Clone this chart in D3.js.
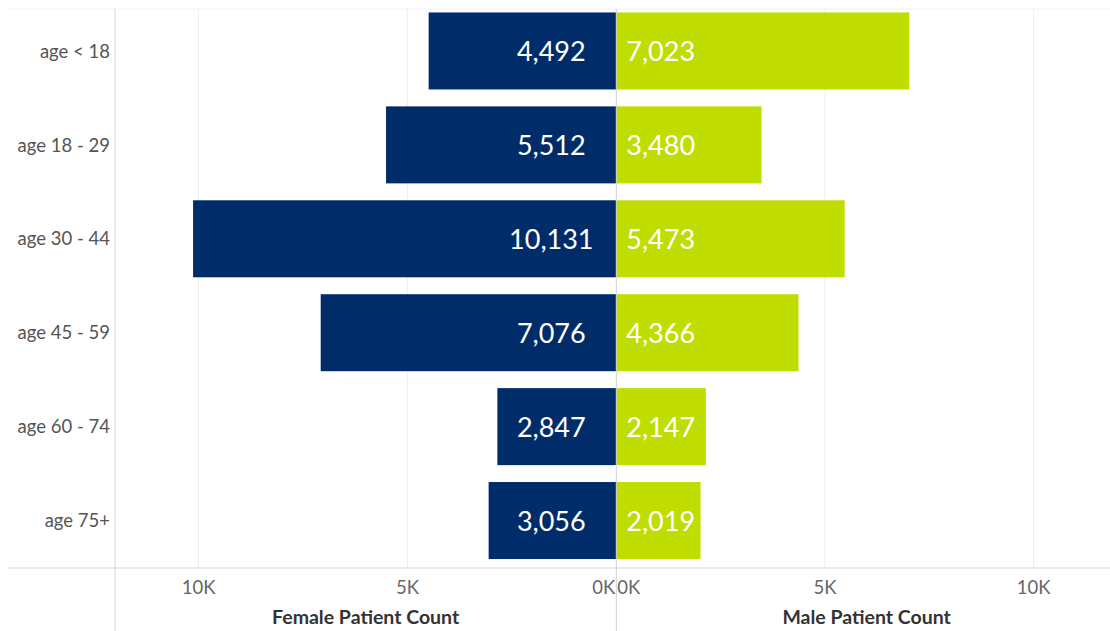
<!DOCTYPE html>
<html>
<head>
<meta charset="utf-8">
<script src="https://cdn.jsdelivr.net/npm/d3@7"></script>
<style>
  body { margin: 0; background: #fff; }
  text { font-family: Lato, "Open Sans", sans-serif; }
</style>
</head>
<body>
<div id="chart"></div>
<script>
// data
var ageGroups = ["age < 18", "age 18 - 29", "age 30 - 44", "age 45 - 59", "age 60 - 74", "age 75+"];
var femaleCounts = [4492, 5512, 10131, 7076, 2847, 3056];
var maleCounts = [7023, 3480, 5473, 4366, 2147, 2019];
var tickValues = [0, 5000, 10000];

var width = 1110, height = 631;
var zeroX = 616.3;
var leftEdge = 115, rightEdge = 1117;
var plotTop = 4, axisY = 568;

var svg = d3.select('#chart').append('svg')
  .attr('width', width)
  .attr('height', height);

var xFemale = d3.scaleLinear().domain([0, 12000]).range([zeroX, leftEdge]);
var xMale = d3.scaleLinear().domain([0, 12000]).range([zeroX, rightEdge]);

var y = d3.scaleBand()
  .domain(ageGroups)
  .range([plotTop, 567.5])
  .paddingInner(0.18)
  .paddingOuter(0.09);

// gridlines
var grid = tickValues.filter(function(d) { return d > 0; });
svg.selectAll('.gf').data(grid).enter().append('line')
  .attr('x1', function(d) { return xFemale(d); })
  .attr('x2', function(d) { return xFemale(d); })
  .attr('y1', 9).attr('y2', axisY)
  .attr('stroke', '#efefef');
svg.selectAll('.gm').data(grid).enter().append('line')
  .attr('x1', function(d) { return xMale(d); })
  .attr('x2', function(d) { return xMale(d); })
  .attr('y1', 9).attr('y2', axisY)
  .attr('stroke', '#efefef');

// top faint line
svg.append('line').attr('x1', 7).attr('x2', width).attr('y1', 9).attr('y2', 9)
  .attr('stroke', '#f2f2f2');

// bars
svg.selectAll('.fbar').data(femaleCounts).enter().append('rect')
  .attr('x', function(d) { return xFemale(d); })
  .attr('y', function(d, i) { return y(ageGroups[i]); })
  .attr('width', function(d) { return zeroX - xFemale(d); })
  .attr('height', y.bandwidth())
  .attr('fill', '#002d6a');

svg.selectAll('.mbar').data(maleCounts).enter().append('rect')
  .attr('x', zeroX)
  .attr('y', function(d, i) { return y(ageGroups[i]); })
  .attr('width', function(d) { return xMale(d) - zeroX; })
  .attr('height', y.bandwidth())
  .attr('fill', '#bfdd00');

// value labels
var fmt = d3.format(',');
svg.selectAll('.flab').data(femaleCounts).enter().append('text')
  .attr('x', zeroX - 65)
  .attr('y', function(d, i) { return y(ageGroups[i]) + y.bandwidth() / 2; })
  .attr('dy', '0.38em')
  .attr('text-anchor', 'middle')
  .attr('fill', '#fff')
  .style('font-size', '27px')
  .text(function(d) { return fmt(d); });

svg.selectAll('.mlab').data(maleCounts).enter().append('text')
  .attr('x', zeroX + 10)
  .attr('y', function(d, i) { return y(ageGroups[i]) + y.bandwidth() / 2; })
  .attr('dy', '0.38em')
  .attr('text-anchor', 'start')
  .attr('fill', '#fff')
  .style('font-size', '27px')
  .text(function(d) { return fmt(d); });

// zero line and left divider
svg.append('line').attr('x1', zeroX).attr('x2', zeroX).attr('y1', 9).attr('y2', height)
  .attr('stroke', '#d0d0d0');
svg.append('line').attr('x1', leftEdge).attr('x2', leftEdge).attr('y1', 9).attr('y2', height)
  .attr('stroke', '#d6d6d6');
svg.append('line').attr('x1', 7).attr('x2', width).attr('y1', axisY).attr('y2', axisY)
  .attr('stroke', '#d6d6d6');

// category labels
svg.selectAll('.cat').data(ageGroups).enter().append('text')
  .attr('x', 110)
  .attr('y', function(d) { return y(d) + y.bandwidth() / 2; })
  .attr('dy', '0.36em')
  .attr('text-anchor', 'end')
  .attr('fill', '#555')
  .style('font-size', '18.5px')
  .text(function(d) { return d; });

// tick labels
function kfmt(d) { return (d / 1000) + 'K'; }
svg.selectAll('.ft').data(tickValues).enter().append('text')
  .attr('x', function(d) { return d === 0 ? zeroX - 1 : xFemale(d); })
  .attr('y', 594)
  .attr('text-anchor', function(d) { return d === 0 ? 'end' : 'middle'; })
  .attr('fill', '#666')
  .style('font-size', '18.5px')
  .text(kfmt);
svg.selectAll('.mt').data(tickValues).enter().append('text')
  .attr('x', function(d) { return d === 0 ? zeroX + 1 : xMale(d); })
  .attr('y', 594)
  .attr('text-anchor', function(d) { return d === 0 ? 'start' : 'middle'; })
  .attr('fill', '#666')
  .style('font-size', '18.5px')
  .text(kfmt);

// axis titles
svg.append('text')
  .attr('x', (leftEdge + zeroX) / 2).attr('y', 624)
  .attr('text-anchor', 'middle')
  .attr('fill', '#333')
  .style('font-size', '19.5px').style('font-weight', 'bold')
  .text('Female Patient Count');
svg.append('text')
  .attr('x', (zeroX + rightEdge) / 2).attr('y', 624)
  .attr('text-anchor', 'middle')
  .attr('fill', '#333')
  .style('font-size', '19.5px').style('font-weight', 'bold')
  .text('Male Patient Count');
</script>
</body>
</html>
